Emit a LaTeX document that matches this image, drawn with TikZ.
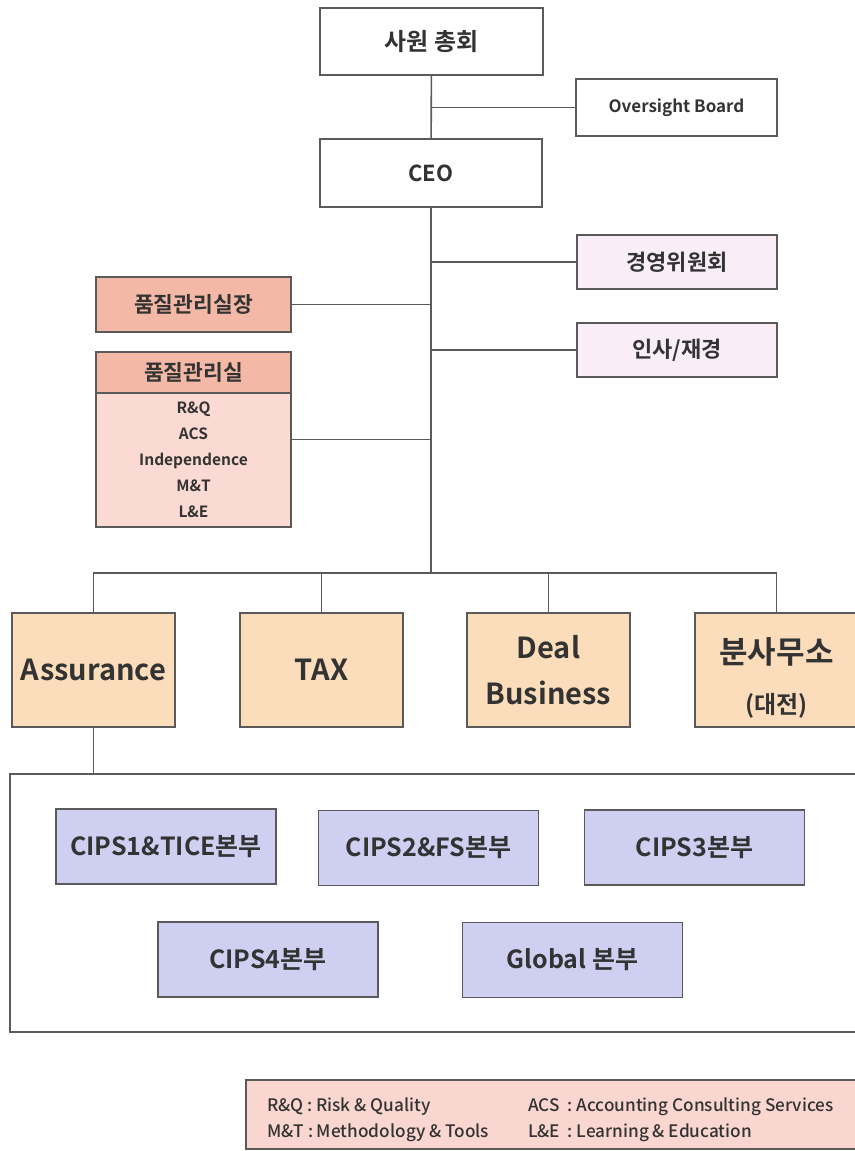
\documentclass[tikz,border=0pt]{standalone}
\usepackage{fontspec}
\setmainfont{Noto Sans CJK KR}[BoldFont={* Bold}]
\newfontfamily\legendfont{Noto Sans CJK KR Medium}
\usetikzlibrary{calc}
\definecolor{linegray}{HTML}{5A5A5A}
\definecolor{textgray}{HTML}{333333}
\definecolor{lavpink}{HTML}{F9EEF8}
\definecolor{salmon}{HTML}{F4B9A6}
\definecolor{lightsalmon}{HTML}{FADAD3}
\definecolor{peach}{HTML}{FBDDBB}
\definecolor{lavender}{HTML}{CFCFF2}
\definecolor{legendpink}{HTML}{F9D6D0}
\begin{document}
\begin{tikzpicture}[x=1pt, y=-1pt,
        box/.style={rectangle, draw=linegray, line width=1.3pt, text=textgray, inner sep=0pt},
        plainbox/.style={box, fill=white, font=\bfseries\fontsize{24}{28}\selectfont},
        staffbox/.style={box, fill=lavpink, minimum width=200, minimum height=54, font=\bfseries\fontsize{22}{26}\selectfont},
        qualbox/.style={box, fill=salmon, minimum width=195, font=\bfseries\fontsize{21.5}{26}\selectfont},
        divbox/.style={box, fill=peach, minimum width=163, minimum height=114, align=center, font=\bfseries\fontsize{29}{46}\selectfont},
        cipsbox/.style={box, fill=lavender, minimum width=220, minimum height=75, font=\bfseries\fontsize{25}{30}\selectfont},
        link/.style={draw=linegray, line width=1.6pt}]

        \useasboundingbox (0,0) rectangle (854,1151);

        \node[plainbox, minimum width=223, minimum height=67] (gen) at (431.5, 41.5) {사원 총회};
        \node[plainbox, minimum width=201, minimum height=57, font=\bfseries\fontsize{17}{20}\selectfont] (ob) at (676.5, 107.5) {Oversight Board};
        \node[plainbox, minimum width=222, minimum height=68, font=\bfseries\fontsize{22}{26}\selectfont] (ceo) at (431, 173) {CEO};

        \node[staffbox] (mgmt) at (677, 262) {경영위원회};
        \node[staffbox] (hr) at (677, 350) {인사/재경};
        \node[qualbox, minimum height=55] (qhead) at (193.5, 304.5) {품질관리실장};
        \node[qualbox, minimum height=41] (qh) at (193.5, 372.5) {품질관리실};
        \node[box, fill=lightsalmon, minimum width=195, minimum height=134, align=center,
              font=\bfseries\fontsize{15.5}{26}\selectfont] (qb) at (193.5, 460)
              {R\&Q\\ACS\\Independence\\M\&T\\L\&E};

        \node[divbox] (ass) at (93.5, 670) {Assurance};
        \node[divbox] (tax) at (321.5, 670) {TAX};
        \node[divbox] (deal) at (548.5, 670) {Deal\\Business};
        \node[divbox, font=\bfseries\fontsize{31}{36}\selectfont] (branch) at (776.5, 670)
              {\raisebox{-11pt}[\height][\depth]{\begin{tabular}{@{}c@{}}분사무소\\[14pt]{\fontsize{24}{28}\selectfont (대전)}\end{tabular}}};

        \node[box, fill=white, minimum width=850, minimum height=258] (cont) at (435, 903) {};
        \node[cipsbox] (c1) at (166, 846.5) {CIPS1\&TICE본부};
        \node[cipsbox] (c2) at (428.5, 848) {CIPS2\&FS본부};
        \node[cipsbox] (c3) at (694.5, 847.5) {CIPS3본부};
        \node[cipsbox] (c4) at (268, 959.5) {CIPS4본부};
        \node[cipsbox] (glob) at (572.5, 960) {Global 본부};

        \node[box, fill=legendpink, minimum width=616, minimum height=69] (legend) at (554, 1114.5) {};
        \node[anchor=west, align=left, text=textgray, inner sep=0pt,
              font=\legendfont\fontsize{17.2}{26}\selectfont] (legtext) at (267, 1120)
              {\makebox[261pt][l]{R\&Q : Risk \& Quality}ACS\ \ : Accounting Consulting Services\\
               \makebox[261pt][l]{M\&T : Methodology \& Tools}L\&E\ \ : Learning \& Education};

        \coordinate (qmid) at ($(qh.north)!0.5!(qb.south)$);
        \coordinate (bus) at (431, 573);

        \draw[link] (gen) -- (ceo);
        \draw[link] (ob.west) -- (ob.west -| gen.south);
        \draw[link] (ceo.south) -- (bus);
        \draw[link] (mgmt.west) -- (mgmt.west -| ceo.south);
        \draw[link] (hr.west) -- (hr.west -| ceo.south);
        \draw[link] (qhead.east) -- (qhead.east -| ceo.south);
        \draw[link] (qmid -| qb.east) -- (qmid -| ceo.south);
        \draw[link] (ass.north) -- (ass.north |- bus) -- (branch.north |- bus) -- (branch.north);
        \draw[link] (tax.north) -- (tax.north |- bus);
        \draw[link] (deal.north) -- (deal.north |- bus);
        \draw[link] (ass.south) -- (ass.south |- cont.north);
    \end{tikzpicture}
\end{document}
